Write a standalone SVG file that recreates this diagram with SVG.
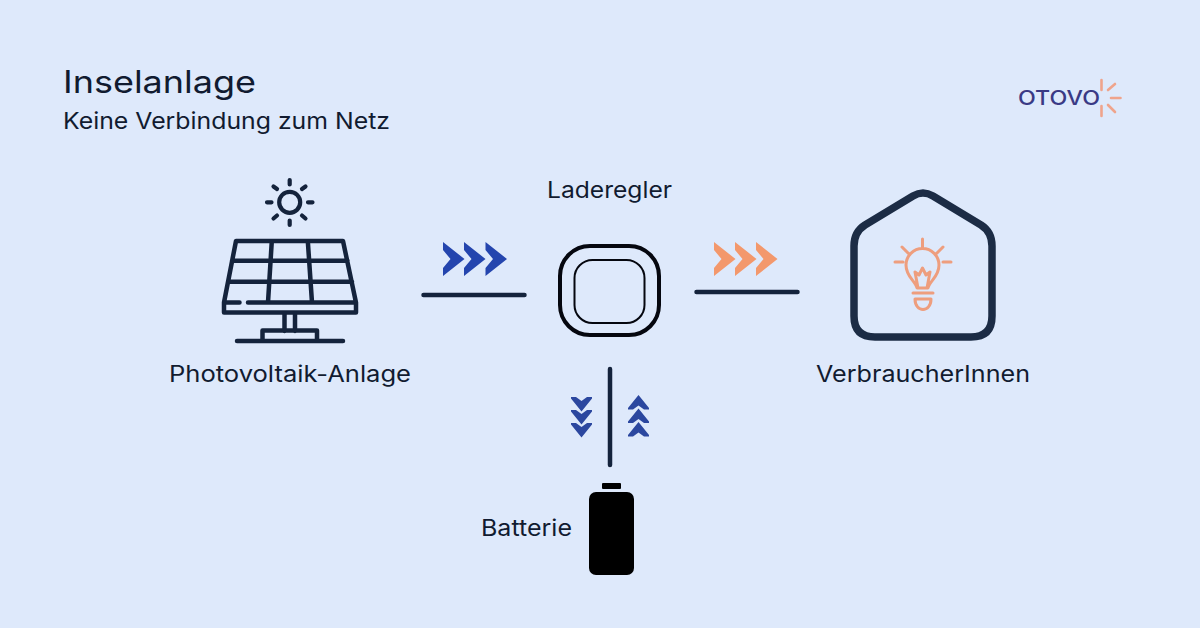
<svg xmlns="http://www.w3.org/2000/svg" width="1200" height="628" viewBox="0 0 1200 628">
<style>
text{font-family:"Inter","Liberation Sans",sans-serif;fill:#111B30}
.l{font-size:22.5px}
.d{fill:none;stroke:#14233C;stroke-linecap:round;stroke-linejoin:round}
.o{fill:none;stroke:#EE9E7E;stroke-linecap:round;stroke-linejoin:round;stroke-width:3}
.r{fill:none;stroke:#EFA48C;stroke-width:2.600;stroke-linecap:round}
.b{fill:#2445AE}.v{fill:#2B479F}.f{fill:#F3986C}
</style>
<defs>
<path id="ch" d="M0 0L21.500 17L0 34V26L7.500 17L0 8Z"/>
<path id="dn" d="M0 0H5L10.500 4L16 0H21V1.500L10.500 14.500L0 1.500Z"/>
<path id="up" d="M0 14.500H5L10.500 10.500L16 14.500H21V13L10.500 0L0 13Z"/>
</defs>
<rect width="1200" height="628" fill="#DEE9FB"/>
<g id="title">
<text x="63" y="93" font-size="31" textLength="193" lengthAdjust="spacingAndGlyphs">Inselanlage</text>
<text x="63" y="129" font-size="23" textLength="327" lengthAdjust="spacingAndGlyphs">Keine Verbindung zum Netz</text>
</g>
<g id="logo">
<text x="1018" y="105.300" font-size="20" font-weight="500" textLength="82" lengthAdjust="spacingAndGlyphs" style="fill:#3A3A85">OTOVO</text>
<path class="r" d="M1101.500 80V90M1108 90L1115 84M1111 98H1120.500M1108 105L1115 112M1101.500 106V116"/>
</g>
<g id="connectors">
<path class="d" stroke-width="4.500" d="M423.500 295H524.500M696.500 292H797.500M610 369V465"/>
</g>
<g id="flow-blue" class="b"><use href="#ch" x="443" y="242"/><use href="#ch" x="464" y="242"/><use href="#ch" x="485.500" y="242"/></g>
<g id="flow-orange" class="f"><use href="#ch" x="714" y="242"/><use href="#ch" x="735" y="242"/><use href="#ch" x="756" y="242"/></g>
<g id="flow-down" class="v"><use href="#dn" x="571" y="397"/><use href="#dn" x="571" y="410"/><use href="#dn" x="571" y="423"/></g>
<g id="flow-up" class="v"><use href="#up" x="628" y="395"/><use href="#up" x="628" y="408.500"/><use href="#up" x="628" y="422"/></g>
<g id="pv">
<g class="d" stroke-width="4.200">
<circle cx="289.700" cy="202.300" r="10.500"/>
<path d="M289.700 180V184.500M289.700 220.500V225M267 202.300H271.500M308 202.300H312.500M273.500 186.500L277 189M302 215.500L305.500 218.500M273.500 218.500L277 215.500M302 189L305.500 186.500"/>
</g>
<g class="d" stroke-width="4.500">
<path d="M236 241H343L356 302.500V312.500H224V302.500ZM232 260.700H347.500M228 281.700H352M224 302.500H239.500M248 302.500H356M271.800 241L268 302.500M307.800 241L312 302.500M284.500 313V331M295 313V331M262.500 341V330.500H317V341M237 341H343"/>
</g>
<text class="l" x="169" y="382" textLength="242" lengthAdjust="spacingAndGlyphs">Photovoltaik-Anlage</text>
</g>
<g id="laderegler">
<rect x="560" y="246" width="99" height="89" rx="30" fill="none" stroke="#05070F" stroke-width="4"/>
<rect x="574.500" y="260" width="70" height="63" rx="18" fill="none" stroke="#05070F" stroke-width="2"/>
<text class="l" x="547" y="198" textLength="125" lengthAdjust="spacingAndGlyphs">Laderegler</text>
</g>
<g id="haus">
<path class="d" style="stroke:#1C2C45" stroke-width="7.500" d="M854 246Q854 232 865 225L913 196Q923 190 933 196L981 225Q992 232 992 246V316Q992 337 971 337H875Q854 337 854 316Z"/>
<path class="o" d="M922.500 239V247M902 247L908 253M943 247L937 253M895 262H903M943 262H951M917 288C915 280 906 277 906 265A16.500 16.500 0 0 1 939 265C939 277 930 280 928 288ZM918 288L915 272L919 275L922.500 268L926 275L930 272L927 288M913 293H933M915 299H931C931 313 915 313 915 299Z"/>
<text class="l" x="816" y="382" textLength="214" lengthAdjust="spacingAndGlyphs">VerbraucherInnen</text>
</g>
<g id="batterie">
<rect x="602" y="483" width="19" height="6" rx="1" fill="#000"/>
<rect x="589" y="492" width="45" height="83" rx="7" fill="#000"/>
<text class="l" x="481" y="536" textLength="91" lengthAdjust="spacingAndGlyphs">Batterie</text>
</g>
</svg>
